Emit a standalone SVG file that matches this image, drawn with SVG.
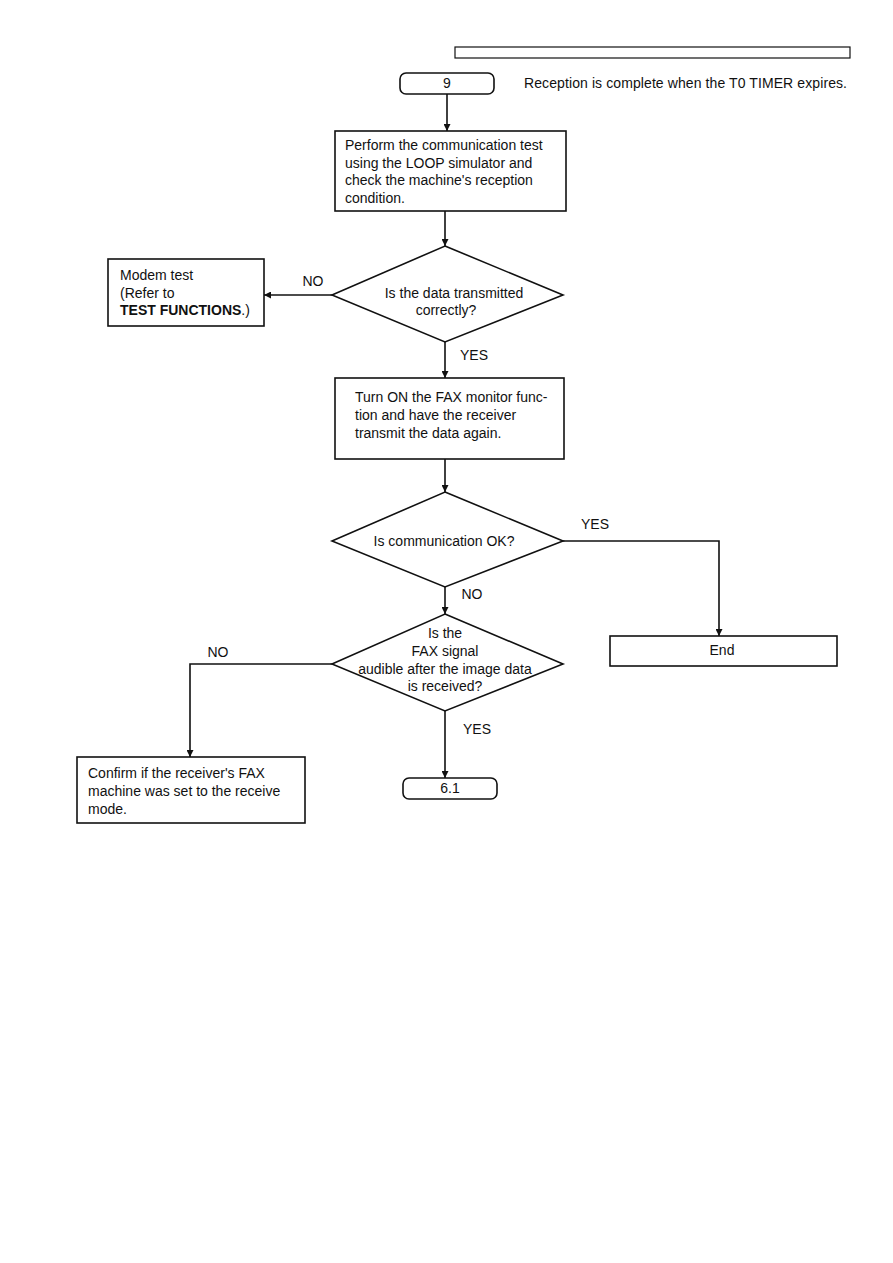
<svg xmlns="http://www.w3.org/2000/svg" width="893" height="1263" viewBox="0 0 893 1263">
<style>
text{font-family:"Liberation Sans",Arial,sans-serif;font-size:14px;fill:#111}
.c{text-anchor:middle}
.b{font-weight:bold}
.shape{fill:#fff;stroke:#111;stroke-width:1.6}
.ln{fill:none;stroke:#111;stroke-width:1.6}
</style>
<defs>
<marker id="ah" viewBox="0 0 10 10" refX="10" refY="5" markerWidth="7" markerHeight="7" markerUnits="userSpaceOnUse" orient="auto">
<path d="M0,0 L10,5 L0,10 z" fill="#111"/>
</marker>
</defs>
<rect width="893" height="1263" fill="#fff"/>
<rect x="455" y="47" width="395" height="11" fill="#fff" stroke="#111" stroke-width="1.2"/>
<g id="connectors">
<path class="ln" d="M447,94 V131" marker-end="url(#ah)"/>
<path class="ln" d="M445,211 V246" marker-end="url(#ah)"/>
<path class="ln" d="M332,295 H264" marker-end="url(#ah)"/>
<path class="ln" d="M445,342 V378" marker-end="url(#ah)"/>
<path class="ln" d="M445,459 V492" marker-end="url(#ah)"/>
<path class="ln" d="M563,541 H719 V636" marker-end="url(#ah)"/>
<path class="ln" d="M445,587 V614" marker-end="url(#ah)"/>
<path class="ln" d="M332,664 H190 V757" marker-end="url(#ah)"/>
<path class="ln" d="M445,711 V778" marker-end="url(#ah)"/>
<text x="313" y="286" class="c">NO</text>
<text x="474" y="360" class="c">YES</text>
<text x="595" y="529" class="c">YES</text>
<text x="472" y="599" class="c">NO</text>
<text x="218" y="657" class="c">NO</text>
<text x="477" y="734" class="c">YES</text>
</g>
<g id="n9">
<rect class="shape" x="400" y="73" width="94" height="21" rx="6"/>
<text x="447" y="88" class="c">9</text>
</g>
<g id="note">
<text x="524" y="88" textLength="323">Reception is complete when the T0 TIMER expires.</text>
</g>
<g id="box1">
<rect class="shape" x="335" y="131" width="231" height="80"/>
<text x="345" y="150">Perform the communication test</text>
<text x="345" y="168">using the LOOP simulator and</text>
<text x="345" y="185">check the machine's reception</text>
<text x="345" y="203">condition.</text>
</g>
<g id="dec1">
<polygon class="shape" points="445,246 563,295 445,342 332,295"/>
<text x="454" y="298" class="c">Is the data transmitted</text>
<text x="446" y="315" class="c">correctly?</text>
</g>
<g id="modem">
<rect class="shape" x="108" y="259" width="156" height="67"/>
<text x="120" y="280">Modem test</text>
<text x="120" y="298">(Refer to</text>
<text x="120" y="315"><tspan class="b">TEST FUNCTIONS</tspan>.)</text>
</g>
<g id="box2">
<rect class="shape" x="335" y="378" width="229" height="81"/>
<text x="355" y="402">Turn ON the FAX monitor func-</text>
<text x="355" y="420">tion and have the receiver</text>
<text x="355" y="438">transmit the data again.</text>
</g>
<g id="dec2">
<polygon class="shape" points="445,492 563,541 445,587 332,541"/>
<text x="444" y="546" class="c">Is communication OK?</text>
</g>
<g id="end">
<rect class="shape" x="610" y="636" width="227" height="30"/>
<text x="722" y="655" class="c">End</text>
</g>
<g id="dec3">
<polygon class="shape" points="445,614 563,664 445,711 332,664"/>
<text x="445" y="638" class="c">Is the</text>
<text x="445" y="656" class="c">FAX signal</text>
<text x="445" y="674" class="c">audible after the image data</text>
<text x="445" y="691" class="c">is received?</text>
</g>
<g id="confirm">
<rect class="shape" x="77" y="757" width="228" height="66"/>
<text x="88" y="778">Confirm if the receiver's FAX</text>
<text x="88" y="796">machine was set to the receive</text>
<text x="88" y="814">mode.</text>
</g>
<g id="n61">
<rect class="shape" x="403" y="778" width="94" height="21" rx="6"/>
<text x="450" y="793" class="c">6.1</text>
</g>
</svg>
